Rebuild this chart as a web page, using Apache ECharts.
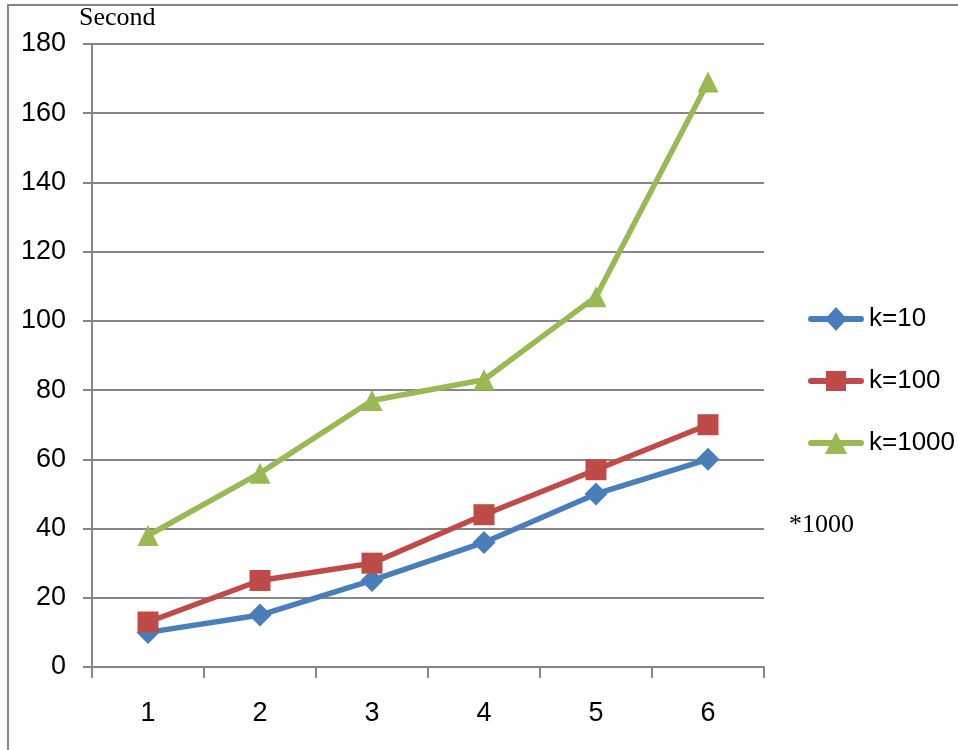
<!DOCTYPE html>
<html><head><meta charset="utf-8">
<script src="https://cdn.jsdelivr.net/npm/echarts@6/dist/echarts.min.js"></script>
<style>html,body{margin:0;padding:0;background:#fff}#c{width:958px;height:750px}</style>
</head><body><div id="c"></div>
<script>
const categories = ['1','2','3','4','5','6'];
const k10 = [10, 15, 25, 36, 50, 60];
const k100 = [13, 25, 30, 44, 57, 70];
const k1000 = [38, 56, 77, 83, 107, 169];
const seriesNames = ['k=10','k=100','k=1000'];

const chart = echarts.init(document.getElementById('c'));
const fam = 'Liberation Sans';
const gray = '#868686';
const bar = 'M3,9 L53,9 A3,3 0 0 1 53,15 L3,15 A3,3 0 0 1 3,9 Z ';
const icons = {
  'k=10': 'path://' + bar + 'M28,0 L39,12 L28,24 L17,12 Z',
  'k=100': 'path://' + bar + 'M18,2 L38,2 L38,22 L18,22 Z',
  'k=1000': 'path://' + bar + 'M28,1 L39,23 L17,23 Z'
};
function s(name, data, color, symbol, size){
  return {name, type:'line', data, color, symbol, symbolSize:size, showSymbol:true,
    lineStyle:{width:5.5, color}, itemStyle:{color}, animation:false, z:3};
}
chart.setOption({
  animation:false,
  grid:{left:92, right:194, top:44, bottom:83},
  xAxis:{type:'category', data:categories, boundaryGap:true,
    axisLine:{lineStyle:{color:gray, width:2}},
    axisTick:{show:true, length:11, lineStyle:{color:gray, width:2}},
    axisLabel:{fontFamily:fam, fontSize:27, color:'#000', margin:33}, splitLine:{show:false}},
  yAxis:{type:'value', min:0, max:180, interval:20,
    axisLine:{show:true, lineStyle:{color:gray, width:2}},
    axisTick:{show:true, length:9, lineStyle:{color:gray, width:2}},
    axisLabel:{fontFamily:fam, fontSize:27, color:'#000', margin:26},
    splitLine:{lineStyle:{color:gray, width:2}}},
  legend:{orient:'vertical', left:803, top:301, itemGap:36, itemWidth:56, itemHeight:24,
    textStyle:{fontFamily:fam, fontSize:26, color:'#000'},
    data:seriesNames.map(n => ({name:n, icon:icons[n]}))},
  series:[
    s('k=10', k10, '#4A7EBB', 'diamond', 23),
    s('k=100', k100, '#BE4B48', 'rect', 21),
    s('k=1000', k1000, '#98B954', 'triangle', 21)
  ],
  graphic:[
    {type:'rect', shape:{x:8,y:5,width:1000,height:800}, style:{fill:'none', stroke:gray, lineWidth:2}, silent:true},
    {type:'text', left:79, top:5, style:{text:'Second', font:'26px "Liberation Serif", serif', fill:'#000'}},
    {type:'text', left:789, top:512, style:{text:'*1000', font:'26px "Liberation Serif", serif', fill:'#000'}}
  ]
});
</script></body></html>
